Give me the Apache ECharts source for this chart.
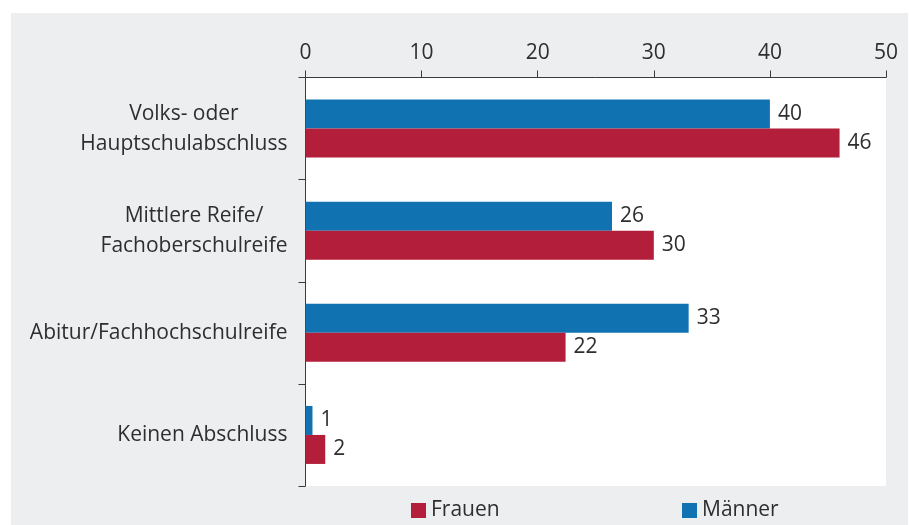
<!DOCTYPE html>
<html><head><meta charset="utf-8">
<script src="https://cdn.jsdelivr.net/npm/echarts@6/dist/echarts.min.js"></script>
<style>html,body{margin:0;padding:0;background:#fff}#c{width:909px;height:525px}</style>
</head><body><div id="c"></div>
<script>
const categories = ['Volks- oder\nHauptschulabschluss', 'Mittlere Reife/\nFachoberschulreife', 'Abitur/Fachhochschulreife', 'Keinen Abschluss'];
const maenner = [40, 26.4, 33, 0.6];
const frauen = [46, 30, 22.4, 1.7];
const xTicks = [0, 10, 20, 30, 40, 50];

const FONT = 'Open Sans';
const TXT = '#2e2e2e';
const chart = echarts.init(document.getElementById('c'), null, {renderer: 'canvas'});
chart.setOption({
  animation: false,
  textStyle: {fontFamily: FONT},
  graphic: [{type: 'rect', z: -10, shape: {x: 11, y: 13, width: 897, height: 512}, style: {fill: '#edeef0'}}],
  grid: {left: 305.5, right: 23, top: 77.5, bottom: 39, show: true, backgroundColor: '#fff', borderWidth: 0},
  legend: [
    {data: ['Frauen'], left: 406, top: 495, padding: 5, itemWidth: 15, itemHeight: 15, icon: 'rect',
     textStyle: {fontFamily: FONT, fontSize: 21, color: TXT}},
    {data: ['Männer'], left: 677, top: 495, padding: 5, itemWidth: 15, itemHeight: 15, icon: 'rect',
     textStyle: {fontFamily: FONT, fontSize: 21, color: TXT}}
  ],
  xAxis: {
    type: 'value', position: 'top', min: xTicks[0], max: xTicks[xTicks.length - 1], interval: 10,
    splitLine: {show: false},
    axisLine: {show: true, lineStyle: {color: '#3a3a3a', width: 1}},
    axisTick: {show: true, length: 7, lineStyle: {color: '#3a3a3a'}},
    axisLabel: {fontSize: 21, color: TXT, margin: 14, fontFamily: FONT}
  },
  yAxis: {
    type: 'category', inverse: true, data: categories,
    axisLine: {show: true, lineStyle: {color: '#3a3a3a', width: 1}},
    axisTick: {show: true, length: 7, lineStyle: {color: '#3a3a3a'}},
    axisLabel: {
      margin: 18, align: 'right', color: TXT, fontSize: 21, fontFamily: FONT, lineHeight: 30,
      formatter: v => v.split('\n').map(s => '{c|' + s + '}').join('\n'),
      rich: {c: {align: 'center', fontSize: 21, lineHeight: 30, color: TXT, fontFamily: FONT}}
    }
  },
  series: [
    {name: 'Männer', type: 'bar', data: maenner, barWidth: 29, barGap: '0%', itemStyle: {color: '#1072b1'},
     label: {show: true, position: 'right', distance: 8, fontSize: 21, color: TXT, fontFamily: FONT,
       formatter: p => Math.round(p.value)}},
    {name: 'Frauen', type: 'bar', data: frauen, barWidth: 29, barGap: '0%', itemStyle: {color: '#b31e3b'},
     label: {show: true, position: 'right', distance: 8, fontSize: 21, color: TXT, fontFamily: FONT,
       formatter: p => Math.round(p.value)}}
  ]
});
</script></body></html>
